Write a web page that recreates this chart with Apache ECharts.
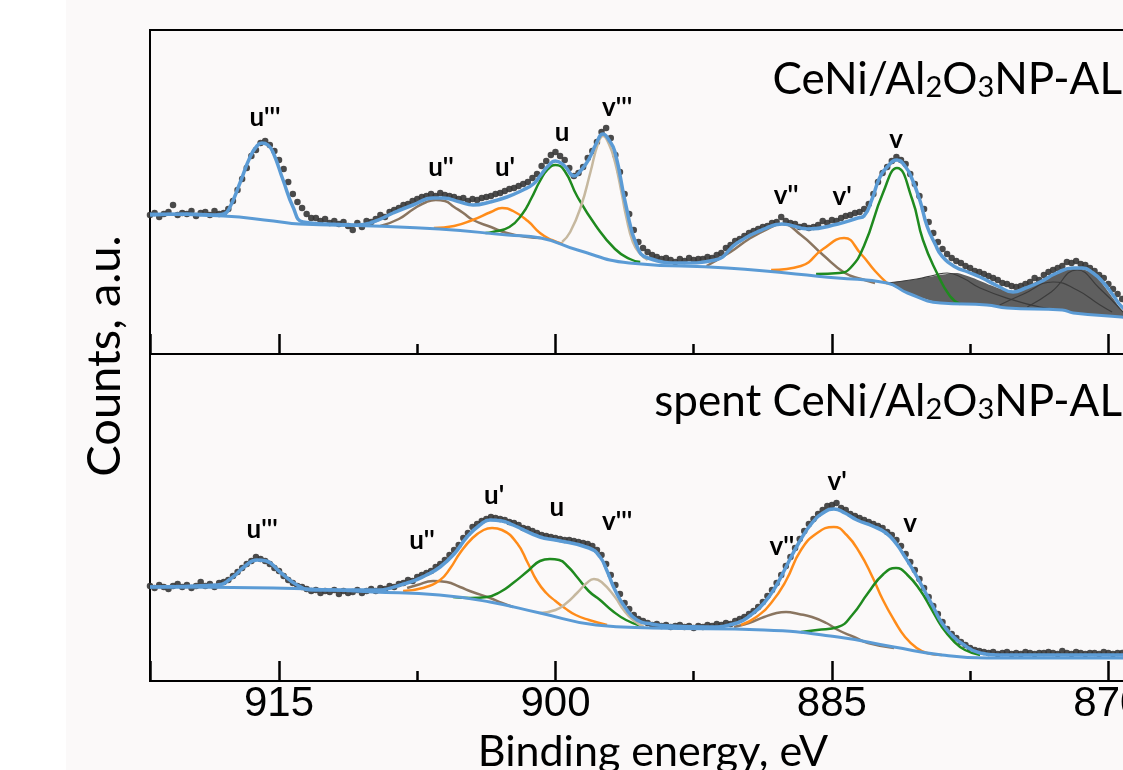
<!DOCTYPE html>
<html>
<head>
<meta charset="utf-8">
<script src="https://cdn.jsdelivr.net/npm/echarts/dist/echarts.min.js"></script>
<style>
  html, body { margin: 0; padding: 0; background: #ffffff; }
  #chart { width: 1123px; height: 770px; background: linear-gradient(to right, #ffffff 0, #ffffff 66px, #fbf9f9 66px); }
</style>
</head>
<body>
<div id="chart"></div>
<script>
// Ce 3d XPS spectra: fresh (top) and spent (bottom) CeNi/Al2O3NP-AL.
// Measured counts on a 0.25 eV grid, from 922 eV downwards (a.u.).
const countsStart = 922;
const countsStep = 0.25;

const topCounts = [
  139,141,137,140, 142,149,139,141, 140,143,138,141, 142,139,143,140,
  141,145,153,164, 175,186,198,204, 211,213,209,203, 194,185,172,160,
  152,146,140,136, 136,133,135,131, 133,130,132,128, 124,131,127,133,
  132,135,139,137, 142,144,146,149, 150,153,155,157, 158,160,158,161,
  159,158,157,155, 156,153,155,154, 156,157,158,160, 161,163,165,166,
  168,170,172,176, 180,188,193,199, 202,198,194,186, 178,181,187,196,
  203,212,222,226, 216,199,182,160, 140,124,112,106, 102,99,97,95,
  96,94,92,95, 93,96,94,95, 95,97,96,99, 101,106,109,113,
  115,118,121,123, 125,127,128,131, 132,137,133,131, 130,127,128,126,
  127,129,133,131, 134,133,136,138, 139,141,142,145, 150,160,172,181,
  187,193,197,194, 190,180,170,158, 145,132,121,112, 105,100,96,93,
  91,88,86,83, 82,80,78,76, 74,71,70,68, 67,68,70,72,
  76,74,79,82, 84,86,88,92, 91,93,90,89, 86,83,79,76,
  70,65,60,55, 50,46,42,39, 36
];

const bottomCounts = [
  95,93,96,94, 92,95,97,94, 96,93,95,99, 95,97,94,98,
  99,101,105,109, 113,117,120,124, 122,120,117,113, 110,105,101,98,
  95,94,92,90, 91,88,90,89, 91,87,90,88, 89,91,88,90,
  92,90,93,92, 95,94,97,98, 101,100,104,106, 108,110,114,117,
  121,126,131,136, 143,148,154,157, 160,162,164,163, 162,161,159,158,
  156,153,152,150, 148,146,145,144, 143,142,141,141, 140,139,138,137,
  135,131,126,117, 106,96,87,78, 72,66,62,60, 58,56,57,55,
  56,54,55,56, 54,55,53,55, 54,56,55,57, 56,58,57,60,
  62,64,67,70, 74,79,85,91, 98,106,115,124, 133,142,150,157,
  162,167,171,175, 176,178,173,171, 167,165,163,161, 159,157,155,153,
  149,146,141,135, 127,119,111,102, 93,84,75,67, 59,52,47,43,
  39,36,33,31, 30,29,28,29, 27,28,29,27, 28,27,29,28,
  27,28,28,29, 28,27,30,28, 27,29,28,27, 28,28,27,29,
  28,27,28,28, 27,28,27,28, 27
];

// Fresh sample: envelope, Shirley background and fitted components [eV, counts]
const topFit = [[922.0,139],[920.0,140],[918.5,139],[918.0,140],[917.66,147],[917.12,171],[916.57,197],[916.2,208],[915.92,211],[915.6,209],[915.33,202],[914.78,174],[914.24,147],[913.7,132],[912.4,130],[910.77,129],[909.9,132],[908.81,141],[907.73,149],[906.64,156],[906.1,156],[905.18,152],[904.47,149],[903.55,152],[902.63,157],[901.76,164],[901.2,170],[900.84,178],[900.4,188],[900.0,193],[899.5,188],[898.99,178],[898.6,184],[898.18,195],[897.8,210],[897.42,220],[897.1,214],[896.77,202],[896.17,148],[895.58,108],[894.98,96],[893.13,91],[891.34,94],[890.15,111],[888.68,125],[887.71,130],[886.3,125],[884.67,130],[883.6,136],[883.26,138],[882.8,156],[882.44,175],[882.0,187],[881.47,194],[881.0,187],[880.65,175],[880.2,152],[879.84,128],[879.4,110],[879.03,98],[878.3,87],[877.62,82],[876.96,77],[876.0,68],[875.17,62],[874.5,66],[873.71,72],[872.8,81],[871.92,86],[871.4,86],[870.83,81],[870.3,72],[869.75,59],[869.2,46],[868.5,38],[868.0,35]];
const topBackground = [[922.0,140],[918.0,138],[915.3,133],[913.9,130],[909.9,128],[906.3,125],[902.6,119],[900.8,116],[898.8,104],[896.0,91],[890.7,86],[884.7,76],[882.0,71],[880.9,61],[879.1,51],[876.6,49],[875.5,46],[872.5,44],[871.9,41],[869.3,37],[868.0,35]];
const topU2 = [[909.5,128],[908.5,135],[907.7,145],[907.0,152],[906.5,154],[906.0,153],[905.5,147],[905.0,141],[904.47,134],[903.5,127],[902.63,121],[901.5,117],[900.8,116]];
const topU1 = [[906.6,126],[905.5,128],[904.5,134],[903.5,142],[902.9,146],[902.3,143],[901.5,133],[900.84,121],[900.2,114],[899.6,110]];
const topU = [[903.8,121],[903.4,122],[902.5,127],[901.8,140],[901.3,156],[900.84,173],[900.4,185],[900.0,189],[899.5,183],[898.83,158],[897.8,128],[896.77,105],[895.96,95],[895.4,92]];
const topV3 = [[899.64,112],[899.2,122],[898.61,148],[898.1,182],[897.7,210],[897.42,218],[897.1,210],[896.77,192],[896.4,160],[896.17,138],[895.8,112],[895.4,100],[895.0,94]];
const topV2 = [[891.8,88],[890.5,102],[889.5,115],[888.5,125],[887.71,130],[886.68,119],[885.48,99],[884.29,81],[883.4,75],[882.66,71]];
const topV1 = [[888.3,84],[886.68,88],[885.48,105],[884.34,116],[883.42,100],[882.66,83],[881.96,70]];
const topV = [[885.86,80],[884.6,81],[884.0,86],[883.26,108],[882.23,161],[881.47,186],[880.65,155],[880.06,114],[879.3,81],[878.6,58],[878.05,50]];
// Ni 2p region overlapping on the low-energy side (shaded) and its sub-peaks
const topNiUpper = [[882.0,71],[880.38,75],[879.13,79],[878.2,81],[877.34,76],[876.42,69],[875.17,62],[873.71,74],[871.92,86],[870.83,81],[869.75,56],[869.2,42],[868.5,37],[868.0,35]];
const topNi1 = [[882.0,71],[880.4,75],[879.4,79],[878.75,81],[877.9,76],[876.96,66],[875.17,54],[873.71,47],[872.5,44]];
const topNi2 = [[875.9,49],[874.6,60],[873.0,72],[871.7,64],[870.45,49],[869.8,42]];
const topNi3 = [[874.4,47],[873.1,62],[871.7,84],[870.5,66],[869.2,42]];

// Spent sample
const bottomFit = [[922.0,94],[918.36,96],[917.5,104],[916.9,114],[916.19,121],[915.7,120],[914.95,109],[914.02,96],[913.16,91],[909.9,91],[908.05,98],[907.0,106],[906.26,114],[905.5,127],[904.8,144],[904.1,156],[903.55,161],[902.9,160],[902.3,156],[900.84,144],[900.0,141],[898.18,133],[897.58,124],[897.2,110],[896.77,91],[896.2,73],[895.58,61],[894.8,57],[893.78,55],[891.72,54],[890.15,58],[889.4,66],[888.68,78],[888.0,96],[887.49,114],[886.8,138],[886.08,158],[885.4,169],[884.89,172],[884.3,168],[883.64,161],[882.8,155],[882.06,148],[881.5,137],[881.03,124],[880.5,108],[880.0,91],[879.5,74],[879.03,58],[878.5,46],[877.99,38],[876.96,28],[876.0,26],[874.58,26],[868.0,26]];
const bottomBackground = [[922.0,94],[915.3,93],[909.9,89],[906.3,86],[903.55,79],[900.84,68],[897.8,56],[894.76,53],[888.68,51],[884.67,44],[881.63,34],[879.03,26],[876.58,23],[868.0,23]];
const bottomU2 = [[908.05,93],[907.5,96],[906.64,100],[905.9,99],[905.18,94],[904.5,89],[903.55,83],[902.9,78],[902.3,74]];
const bottomU1 = [[908.27,90],[907.2,93],[906.26,101],[905.7,113],[905.18,128],[904.5,143],[903.9,151],[903.44,153],[902.9,151],[902.09,138],[901.5,118],[901.0,100],[900.5,88],[900.0,80],[899.5,73],[898.9,66],[898.18,61],[897.2,56]];
const bottomU = [[905.56,84],[904.6,83],[903.71,84],[903.0,89],[902.3,98],[901.5,110],[900.84,120],[900.3,122],[899.8,121],[899.3,114],[898.83,104],[898.2,90],[897.58,81],[896.9,70],[896.17,61],[895.36,55]];
const bottomV3 = [[900.84,68],[900.0,71],[899.4,78],[898.83,88],[898.3,98],[897.91,102],[897.5,99],[896.77,84],[896.3,71],[895.79,61],[895.2,54]];
const bottomV2 = [[890.31,54],[889.5,58],[888.68,64],[888.0,68],[887.49,69],[886.8,67],[886.08,64],[885.3,58],[884.67,51],[883.8,44],[883.04,38],[881.63,33]];
const bottomV1 = [[889.93,56],[889.1,64],[888.3,78],[887.5,100],[886.68,131],[885.8,148],[884.89,154],[884.2,146],[883.48,128],[882.8,104],[882.23,81],[881.6,60],[881.03,44],[880.4,33],[879.84,28],[879.03,26]];
const bottomV = [[886.68,49],[885.8,51],[884.67,54],[883.9,66],[883.04,88],[882.2,107],[881.52,113],[880.9,106],[880.22,91],[879.6,72],[879.03,54],[878.4,40],[877.78,31],[876.96,26]];

// Peak assignments: [label, eV, counts]
const topPeakLabels = [["u'''",915.76,236],["u''",906.21,186],["u'",902.74,186],["u",899.64,221],["v'''",896.66,246],["v''",887.49,158],["v'",884.45,157],["v",881.52,214]];
const bottomPeakLabels = [["u'''",915.92,151],["u''",907.24,140],["u'",903.33,185],["u",899.92,173],["v'''",896.66,159],["v''",887.71,134],["v'",884.72,199],["v",880.76,157]];

const xTicks = { min: 855, max: 922, interval: 15 };

const COLORS = {
  fit: '#5b9bd5', data: '#363636', orange: '#ff8c1a', green: '#1f8a1f',
  brown: '#8a7560', tan: '#c6b89f', ni: '#5f5f5f', niLine: '#3c3c3c'
};

function withEnergies(counts) {
  return counts.map((c, i) => [countsStart - i * countsStep, c]);
}

function curve(data, color, width, g, z) {
  return {
    type: 'line', xAxisIndex: g, yAxisIndex: g, data: data,
    showSymbol: false, smooth: 0.5,
    lineStyle: { color: color, width: width }, z: z, silent: true
  };
}

function points(counts, g) {
  return {
    type: 'scatter', xAxisIndex: g, yAxisIndex: g, data: withEnergies(counts),
    symbolSize: 6.5, itemStyle: { color: COLORS.data, opacity: 0.9 }, z: 3, silent: true
  };
}

function peakLabels(list, g) {
  return {
    type: 'scatter', xAxisIndex: g, yAxisIndex: g, symbolSize: 1,
    itemStyle: { color: 'rgba(0,0,0,0)' }, z: 8, silent: true,
    data: list.map(([n, e, c]) => ({ name: n, value: [e, c] })),
    label: { show: true, position: 'inside', formatter: '{b}', fontFamily: 'Lato',
             fontWeight: 'bold', fontSize: 26, color: '#000', opacity: 1,
             textBorderWidth: 0, textBorderColor: 'transparent' }
  };
}

function energyAxis(g, showLabels) {
  return {
    type: 'value', gridIndex: g, min: xTicks.min, max: xTicks.max, interval: xTicks.interval, inverse: true,
    axisLine: { show: true, onZero: false, lineStyle: { color: '#000', width: 2 } },
    axisTick: { show: true, inside: true, length: 20, lineStyle: { color: '#000', width: 2.5 } },
    minorTick: { show: true, splitNumber: 2, length: 10, lineStyle: { color: '#000', width: 2.5 } },
    splitLine: { show: false }, minorSplitLine: { show: false },
    axisLabel: { show: showLabels, showMinLabel: false, showMaxLabel: false, margin: 2,
                 color: '#000', fontFamily: 'Liberation Sans', fontSize: 42 }
  };
}

const gridWidth = (xTicks.max - xTicks.min) * 18.43;

const chart = echarts.init(document.getElementById('chart'), null, { renderer: 'canvas' });
chart.setOption({
  animation: false,
  backgroundColor: 'transparent',
  grid: [
    { left: 150, top: 30, width: gridWidth, height: 324, containLabel: false, outerBoundsMode: 'none',
      show: true, borderColor: '#000', borderWidth: 2, backgroundColor: 'transparent' },
    { left: 150, top: 354, width: gridWidth, height: 327, containLabel: false, outerBoundsMode: 'none',
      show: true, borderColor: '#000', borderWidth: 2, backgroundColor: 'transparent' }
  ],
  xAxis: [energyAxis(0, false), energyAxis(1, true)],
  yAxis: [
    { type: 'value', gridIndex: 0, min: 0, max: 324, show: false },
    { type: 'value', gridIndex: 1, min: 0, max: 327, show: false }
  ],
  series: [
    {
      type: 'custom', xAxisIndex: 0, yAxisIndex: 0, data: [[875, 50]], z: 1, silent: true,
      renderItem: function (params, api) {
        const upper = topNiUpper.map(p => api.coord(p));
        const lower = topBackground.filter(p => p[0] <= 882).map(p => api.coord(p)).reverse();
        return { type: 'polygon', shape: { points: upper.concat(lower), smooth: 0.2 }, style: { fill: COLORS.ni } };
      }
    },
    curve(topNi1, COLORS.niLine, 1.2, 0, 2),
    curve(topNi2, COLORS.niLine, 1.2, 0, 2),
    curve(topNi3, COLORS.niLine, 1.2, 0, 2),
    points(topCounts, 0),
    curve(topU2, COLORS.brown, 2.5, 0, 4),
    curve(topU1, COLORS.orange, 2.5, 0, 4),
    curve(topU, COLORS.green, 2.5, 0, 4),
    curve(topV3, COLORS.tan, 2.5, 0, 4),
    curve(topV2, COLORS.brown, 2.5, 0, 4),
    curve(topV1, COLORS.orange, 2.5, 0, 4),
    curve(topV, COLORS.green, 2.5, 0, 4),
    curve(topBackground, COLORS.fit, 3, 0, 5),
    curve(topFit, COLORS.fit, 3.5, 0, 6),
    peakLabels(topPeakLabels, 0),

    points(bottomCounts, 1),
    curve(bottomU2, COLORS.brown, 2.5, 1, 4),
    curve(bottomU1, COLORS.orange, 2.5, 1, 4),
    curve(bottomU, COLORS.green, 2.5, 1, 4),
    curve(bottomV3, COLORS.tan, 2.5, 1, 4),
    curve(bottomV2, COLORS.brown, 2.5, 1, 4),
    curve(bottomV1, COLORS.orange, 2.5, 1, 4),
    curve(bottomV, COLORS.green, 2.5, 1, 4),
    curve(bottomBackground, COLORS.fit, 3, 1, 5),
    curve(bottomFit, COLORS.fit, 3.5, 1, 6),
    peakLabels(bottomPeakLabels, 1)
  ],
  graphic: [
    {
      type: 'text', x: 1122, y: 80, z: 10,
      style: {
        text: '{a|CeNi/Al}{s|2}{a|O}{s|3}{a|NP-AL}', align: 'right', verticalAlign: 'middle',
        rich: { a: { fontFamily: 'Lato', fontSize: 44, fill: '#000' },
                s: { fontFamily: 'Lato', fontSize: 29, fill: '#000', verticalAlign: 'bottom' } }
      }
    },
    {
      type: 'text', x: 1122, y: 402, z: 10,
      style: {
        text: '{a|spent CeNi/Al}{s|2}{a|O}{s|3}{a|NP-AL}', align: 'right', verticalAlign: 'middle',
        rich: { a: { fontFamily: 'Lato', fontSize: 44, fill: '#000' },
                s: { fontFamily: 'Lato', fontSize: 29, fill: '#000', verticalAlign: 'bottom' } }
      }
    },
    {
      type: 'text', x: 105, y: 356, rotation: Math.PI / 2, z: 10,
      style: { text: 'Counts, a.u.', fontFamily: 'Lato', fontSize: 47, fill: '#000', align: 'center', verticalAlign: 'middle' }
    },
    {
      type: 'text', x: 653, y: 752, z: 10,
      style: { text: 'Binding energy, eV', fontFamily: 'Lato', fontSize: 43, fill: '#000', align: 'center', verticalAlign: 'middle' }
    }
  ]
});
</script>
</body>
</html>
